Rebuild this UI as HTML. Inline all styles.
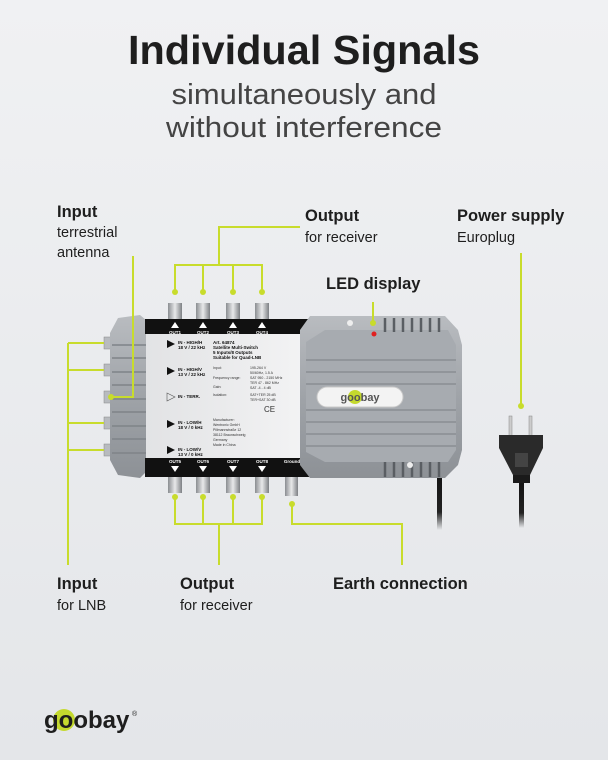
<!DOCTYPE html>
<html><head><meta charset="utf-8"><style>
html,body{margin:0;padding:0;}
body{width:608px;height:760px;overflow:hidden;background:linear-gradient(180deg,#f0f1f3,#e4e6e9);font-family:"Liberation Sans",sans-serif;}
svg{display:block}
</style></head><body>
<svg width="608" height="760" viewBox="0 0 608 760" xmlns="http://www.w3.org/2000/svg">
<defs>
<linearGradient id="body" x1="0" y1="0" x2="0" y2="1"><stop offset="0" stop-color="#b9bcc0"/><stop offset="0.5" stop-color="#9fa3a8"/><stop offset="1" stop-color="#8d9196"/></linearGradient>
<linearGradient id="label" x1="0" y1="0" x2="1" y2="0"><stop offset="0" stop-color="#e2e3e5"/><stop offset="1" stop-color="#f4f4f5"/></linearGradient>
<linearGradient id="conn" x1="0" y1="0" x2="1" y2="0"><stop offset="0" stop-color="#8a8d91"/><stop offset="0.5" stop-color="#e8e9ea"/><stop offset="1" stop-color="#7d8084"/></linearGradient>
<linearGradient id="fade" x1="0" y1="0" x2="0" y2="1"><stop offset="0" stop-color="#111"/><stop offset="0.7" stop-color="#222"/><stop offset="1" stop-color="#222" stop-opacity="0"/></linearGradient>
</defs>
<g text-anchor="middle" fill="#1e1e1e">
<text x="304" y="64" font-size="41" font-weight="bold" textLength="352" lengthAdjust="spacingAndGlyphs">Individual Signals</text>
<text x="304" y="104" font-size="29" fill="#444" textLength="265" lengthAdjust="spacingAndGlyphs">simultaneously and</text>
<text x="304" y="137" font-size="29" fill="#444" textLength="276" lengthAdjust="spacingAndGlyphs">without interference</text>
</g>
<g fill="#1e1e1e">
<text x="57" y="217" font-size="16.5" font-weight="bold">Input</text>
<text x="57" y="237" font-size="14.5">terrestrial</text>
<text x="57" y="257" font-size="14.5">antenna</text>
<text x="305" y="221" font-size="16.5" font-weight="bold">Output</text>
<text x="305" y="242" font-size="14.5">for receiver</text>
<text x="457" y="221" font-size="16.5" font-weight="bold">Power supply</text>
<text x="457" y="242" font-size="14.5">Europlug</text>
<text x="326" y="289" font-size="16.5" font-weight="bold">LED display</text>
<text x="57" y="589" font-size="16.5" font-weight="bold">Input</text>
<text x="57" y="610" font-size="14.5">for LNB</text>
<text x="180" y="589" font-size="16.5" font-weight="bold">Output</text>
<text x="180" y="610" font-size="14.5">for receiver</text>
<text x="333" y="589" font-size="16.5" font-weight="bold">Earth connection</text>
</g>
<!-- cables -->
<rect x="437" y="470" width="5" height="60" fill="url(#fade)"/>
<rect x="519" y="478" width="5" height="50" fill="url(#fade)"/>
<!-- plug -->
<rect x="509" y="416" width="3" height="20" fill="#ccc" stroke="#888" stroke-width="0.5"/>
<rect x="529" y="416" width="3" height="20" fill="#ccc" stroke="#888" stroke-width="0.5"/>
<path d="M499 435 H543 V448 L530 475 H513 L499 448Z" fill="#2a2a2a"/>
<rect x="513" y="475" width="17" height="8" fill="#1a1a1a"/>
<rect x="515" y="453" width="13" height="14" fill="#444"/>
<!-- connectors -->
<g fill="url(#conn)">
<rect x="168" y="303" width="14" height="17"/><rect x="196" y="303" width="14" height="17"/><rect x="226" y="303" width="14" height="17"/><rect x="255" y="303" width="14" height="17"/>
<rect x="168" y="476" width="14" height="17"/><rect x="196" y="476" width="14" height="17"/><rect x="226" y="476" width="14" height="17"/><rect x="255" y="476" width="14" height="17"/>
<rect x="285" y="476" width="13" height="20"/>
</g>
<g fill="#b8bbbf" stroke="#888" stroke-width="0.5">
<rect x="104" y="337" width="8" height="12"/><rect x="104" y="364" width="8" height="12"/><rect x="104" y="391" width="8" height="12"/><rect x="104" y="417" width="8" height="12"/><rect x="104" y="444" width="8" height="12"/>
</g>
<!-- left body -->
<path d="M118 318 L140 315 L152 325 L152 466 L140 478 L118 475 L110 460 L110 333Z" fill="url(#body)"/>
<g stroke="#7f8388" stroke-width="1.5">
<line x1="112" y1="345" x2="150" y2="345"/><line x1="112" y1="358" x2="150" y2="358"/><line x1="112" y1="372" x2="150" y2="372"/><line x1="112" y1="385" x2="150" y2="385"/><line x1="112" y1="399" x2="150" y2="399"/><line x1="112" y1="412" x2="150" y2="412"/><line x1="112" y1="426" x2="150" y2="426"/><line x1="112" y1="439" x2="150" y2="439"/><line x1="112" y1="453" x2="150" y2="453"/>
</g>
<rect x="146" y="333" width="168" height="126" fill="url(#label)"/>
<rect x="145" y="319" width="170" height="15" fill="#111"/>
<rect x="145" y="458" width="170" height="19" fill="#111"/>
<g fill="#fff" font-size="4.5" font-weight="bold" text-anchor="middle">
<text x="175" y="334">OUT1</text><text x="203" y="334">OUT2</text><text x="233" y="334">OUT3</text><text x="262" y="334">OUT4</text>
<text x="175" y="463">OUT5</text><text x="203" y="463">OUT6</text><text x="233" y="463">OUT7</text><text x="262" y="463">OUT8</text><text x="292" y="463">Ground</text>
<path d="M171 328 L175 322 L179 328Z M199 328 L203 322 L207 328Z M229 328 L233 322 L237 328Z M258 328 L262 322 L266 328Z"/>
<path d="M171 466 L175 472 L179 466Z M199 466 L203 472 L207 466Z M229 466 L233 472 L237 466Z M258 466 L262 472 L266 466Z"/>
</g>
<g fill="#111" font-size="4.5" font-weight="bold">
<path d="M167 340 L175 344 L167 348Z M167 367 L175 371 L167 375Z M167 420 L175 424 L167 428Z M167 446 L175 450 L167 454Z"/>
<path d="M167 393 L175 397 L167 401Z" fill="none" stroke="#555" stroke-width="0.6"/>
<text x="178" y="344">IN - HIGH/H</text><text x="178" y="349">18 V / 22 kHz</text>
<text x="178" y="371">IN - HIGH/V</text><text x="178" y="376">13 V / 22 kHz</text>
<text x="178" y="398">IN - TERR.</text>
<text x="178" y="424">IN - LOW/H</text><text x="178" y="429">18 V / 0 kHz</text>
<text x="178" y="451">IN - LOW/V</text><text x="178" y="456">13 V / 0 kHz</text>
<text x="213" y="344">Art. 64874</text><text x="213" y="349">Satellite Multi-Switch</text><text x="213" y="354">5 Inputs/8 Outputs</text><text x="213" y="359">Suitable for Quad-LNB</text>
</g>
<g fill="#333" font-size="3.5"><text x="213" y="369">Input:</text><text x="213" y="379">Frequency range:</text><text x="213" y="388">Gain:</text><text x="213" y="396">Isolation:</text><text x="250" y="369">195-264 V</text><text x="250" y="374">50/60Hz, 1.5 A</text><text x="250" y="379">SAT 950 - 2150 MHz</text><text x="250" y="384">TER 47 - 862 MHz</text><text x="250" y="389">SAT -4 - 4 dB</text><text x="250" y="396">SAT+TER 25 dB</text><text x="250" y="401">TER+SAT 30 dB</text>
<text x="213" y="421">Manufacturer:</text><text x="213" y="426">Wentronic GmbH</text><text x="213" y="431">Pillmannstraße 12</text><text x="213" y="436">38112 Braunschweig</text><text x="213" y="441">Germany</text><text x="213" y="446">Made in China</text>
<text x="264" y="412" font-size="8">CE</text></g>
<!-- right housing -->
<path d="M310 316 H445 L458 330 L462 345 L462 450 L458 465 L445 478 H310 L300 465 L300 330Z" fill="url(#body)"/>
<path d="M306 342 L325 330 H448 L456 345 V450 L448 462 H325 L306 452Z" fill="#a7abb0"/>
<g stroke="#8a8e93" stroke-width="1.5">
<line x1="306" y1="360" x2="456" y2="360"/><line x1="306" y1="372" x2="456" y2="372"/><line x1="306" y1="384" x2="456" y2="384"/><line x1="306" y1="410" x2="456" y2="410"/><line x1="306" y1="422" x2="456" y2="422"/><line x1="306" y1="434" x2="456" y2="434"/><line x1="306" y1="446" x2="456" y2="446"/>
</g>
<g stroke="#5a5e63" stroke-width="2.5">
<line x1="385" y1="318" x2="385" y2="332"/><line x1="394" y1="318" x2="394" y2="332"/><line x1="403" y1="318" x2="403" y2="332"/><line x1="412" y1="318" x2="412" y2="332"/><line x1="421" y1="318" x2="421" y2="332"/><line x1="430" y1="318" x2="430" y2="332"/><line x1="439" y1="318" x2="439" y2="332"/>
<line x1="385" y1="462" x2="385" y2="477"/><line x1="394" y1="462" x2="394" y2="477"/><line x1="403" y1="462" x2="403" y2="477"/><line x1="412" y1="462" x2="412" y2="477"/><line x1="421" y1="462" x2="421" y2="477"/><line x1="430" y1="462" x2="430" y2="477"/><line x1="439" y1="462" x2="439" y2="477"/>
</g>
<circle cx="350" cy="323" r="3" fill="#eee"/><circle cx="410" cy="465" r="3" fill="#eee"/>
<circle cx="374" cy="334" r="2.5" fill="#e02020"/>
<rect x="317" y="387" width="86" height="20" rx="10" fill="#f3f3f3" stroke="#c8c8c8"/>
<circle cx="355" cy="397" r="7" fill="#c4d92e"/>
<text x="360" y="401" font-size="11" font-weight="bold" fill="#555" text-anchor="middle">goobay</text>
<!-- lines -->
<g stroke="#c8dc2c" stroke-width="2" fill="none">
<path d="M175 292 V265 H262 V292 M203 265 V292 M233 265 V292 M219 265 V227 H300"/>
<path d="M133 256 V397 H111"/>
<path d="M68 343 V565 M68 343 H104 M68 370 H104 M68 423 H104 M68 450 H104"/>
<path d="M175 497 V524 H262 V497 M203 524 V497 M233 524 V497 M219 524 V565"/>
<path d="M292 504 V524 H402 V565"/>
<path d="M521 253 V406"/>
<path d="M373 302 V323"/>
</g>
<g fill="#c8dc2c">
<circle cx="175" cy="292" r="3"/><circle cx="203" cy="292" r="3"/><circle cx="233" cy="292" r="3"/><circle cx="262" cy="292" r="3"/>
<circle cx="175" cy="497" r="3"/><circle cx="203" cy="497" r="3"/><circle cx="233" cy="497" r="3"/><circle cx="262" cy="497" r="3"/><circle cx="292" cy="504" r="3"/>
<circle cx="111" cy="397" r="3"/><circle cx="521" cy="406" r="3"/><circle cx="373" cy="323" r="3"/>
</g>
<!-- logo -->
<circle cx="64" cy="720" r="11" fill="#c4d92e"/>
<text x="44" y="728" font-size="24" font-weight="bold" fill="#1e1e1e">goobay</text>
<text x="132" y="716" font-size="7" fill="#1e1e1e">®</text>
</svg>
</body></html>
